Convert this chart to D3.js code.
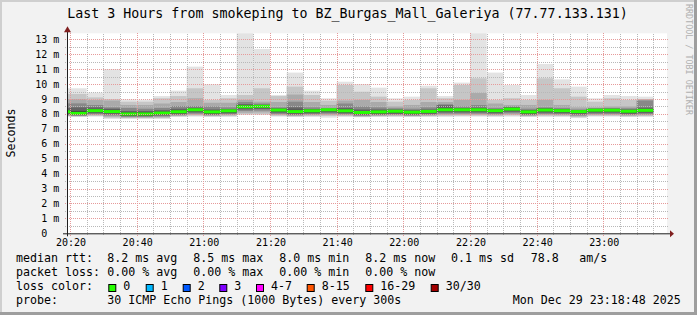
<!DOCTYPE html>
<html><head><meta charset="utf-8">
<script src="https://cdn.jsdelivr.net/npm/d3@7"></script>
<style>
html,body{margin:0;padding:0;background:#f2f2f2;}
svg{display:block;}
svg text{font-family:"DejaVu Sans Mono",monospace;fill:#000;}
</style></head><body>
<svg id="c" width="697" height="315"></svg>
<script>
// ---- data (ms) ----
const barEnds = ["20:20","20:25","20:30","20:35","20:40","20:45","20:50","20:55","21:00","21:05","21:10","21:15",
 "21:20","21:25","21:30","21:35","21:40","21:45","21:50","21:55","22:00","22:05","22:10","22:15",
 "22:20","22:25","22:30","22:35","22:40","22:45","22:50","22:55","23:00","23:05","23:10","23:15"];
const medianMs = [8.15,8.04,8.22,8.16,8.00,8.00,8.06,8.15,8.28,8.14,8.21,8.48,8.51,8.26,8.16,8.21,8.28,8.21,8.10,8.14,8.18,8.12,8.17,8.28,8.28,8.28,8.22,8.32,8.14,8.26,8.22,8.16,8.25,8.25,8.18,8.24];
// sorted ping ranks read from the smoke (upper side)
const p30 = [9.72,9.72,9.43,11.0,8.98,8.95,9.2,9.56,11.17,9.99,9.27,14.0,12.35,9.27,10.77,9.56,9.05,10.16,10.0,9.76,9.05,9.16,9.89,9.2,10.1,14.0,10.77,9.94,9.27,11.35,10.32,9.83,9.05,9.27,9.2,9.16];
const p28 = [9.34,9.34,9.11,9.0,8.82,8.82,9.05,9.2,9.72,8.94,9.05,9.27,9.72,9.2,9.83,9.27,8.89,9.94,9.49,9.16,8.82,8.94,9.72,9.05,9.94,10.39,8.94,9.05,8.94,10.39,9.72,9.16,8.82,9.05,8.94,9.0];
const p26 = [9.0,9.0,8.93,8.9,8.6,8.6,8.7,8.8,9.05,8.75,8.75,8.94,8.82,8.8,9.3,8.8,8.6,8.9,8.94,8.8,8.5,8.6,8.8,8.8,8.94,9.4,8.7,8.6,8.6,8.94,8.6,8.44,8.44,8.5,8.5,8.97];
const p23 = [8.71,8.71,8.6,8.44,8.4,8.35,8.4,8.53,8.53,8.5,8.44,8.8,8.7,8.44,8.82,8.44,8.38,8.7,8.5,8.44,8.38,8.35,8.44,8.65,8.5,8.6,8.4,8.5,8.35,8.44,8.4,8.3,8.38,8.4,8.38,8.9];
const p20 = [8.4,8.44,8.44,8.35,8.2,8.2,8.25,8.35,8.42,8.3,8.31,8.66,8.62,8.38,8.44,8.33,8.35,8.4,8.3,8.3,8.3,8.25,8.3,8.58,8.4,8.42,8.33,8.45,8.25,8.38,8.33,8.25,8.35,8.35,8.3,8.42];
const p17 = [8.25,8.2,8.32,8.27,8.1,8.1,8.15,8.25,8.36,8.22,8.28,8.58,8.58,8.33,8.28,8.28,8.33,8.3,8.2,8.22,8.25,8.2,8.24,8.38,8.36,8.36,8.3,8.4,8.22,8.34,8.3,8.22,8.32,8.32,8.26,8.33];
// lower side
const p14 = [8.05,7.95,8.12,8.06,7.9,7.9,7.96,8.05,8.18,8.04,8.11,8.38,8.41,8.16,8.06,8.11,8.18,8.11,8.0,8.04,8.08,8.02,8.07,8.18,8.18,8.18,8.12,8.22,8.04,8.16,8.12,8.06,8.15,8.15,8.08,8.14];
const p11 = [7.98,7.92,8.05,7.98,7.86,7.86,7.9,7.98,8.1,7.97,8.04,8.3,8.33,8.08,7.98,8.04,8.1,8.04,7.94,7.97,8.0,7.95,8.0,8.1,8.1,8.1,8.05,8.14,7.97,8.08,8.05,7.98,8.08,8.08,8.0,8.06];
const p8  = [7.92,7.88,7.98,7.9,7.8,7.8,7.84,7.92,8.02,7.92,7.98,8.2,8.22,8.0,7.92,7.98,8.02,7.98,7.88,7.92,7.95,7.9,7.94,8.02,8.02,8.02,7.98,8.05,7.92,8.0,7.98,7.9,8.0,8.0,7.94,7.98];
const p5  = [7.88,7.85,7.92,7.82,7.76,7.76,7.78,7.88,7.95,7.88,7.92,8.08,8.1,7.93,7.87,7.92,7.94,7.92,7.84,7.88,7.9,7.86,7.89,7.94,7.95,7.95,7.92,7.97,7.87,7.93,7.92,7.84,7.93,7.93,7.88,7.92];
const p3  = [7.85,7.83,7.87,7.74,7.72,7.72,7.72,7.84,7.88,7.84,7.86,7.98,7.98,7.87,7.83,7.86,7.86,7.86,7.81,7.84,7.85,7.83,7.85,7.87,7.88,7.88,7.86,7.9,7.83,7.87,7.86,7.78,7.87,7.87,7.83,7.86];
const p1  = [7.82,7.82,7.82,7.66,7.66,7.66,7.66,7.8,7.82,7.8,7.8,7.93,7.93,7.82,7.8,7.8,7.75,7.8,7.78,7.8,7.8,7.8,7.8,7.8,7.82,7.82,7.8,7.82,7.8,7.8,7.8,7.72,7.82,7.82,7.8,7.8];
const yTicks = [0,1,2,3,4,5,6,7,8,9,10,11,12,13];
const xTickLabels = ["20:20","20:40","21:00","21:20","21:40","22:00","22:20","22:40","23:00"];
const titleText = "Last 3 Hours from smokeping to BZ_Burgas_Mall_Galeriya (77.77.133.131)";
const rttItems = ["8.2 ms avg","8.5 ms max","8.0 ms min","8.2 ms now","0.1 ms sd","78.8","am/s"];
const lossItems = ["0.00 % avg","0.00 % max","0.00 % min","0.00 % now"];
const lossLabels = ["0","1","2","3","4-7","8-15","16-29","30/30"];
const lossColors = ["#26ff00","#00b8ff","#0059ff","#7e00ff","#ff00ff","#ff5500","#ff0000","#a10000"];
const probeText = "30 ICMP Echo Pings (1000 Bytes) every 300s";
const dateText = "Mon Dec 29 23:18:48 2025";

// ---- layout ----
const svg = d3.select("#c");
const pt = d3.timeParse("%H:%M:%S");
const pm = d3.timeParse("%H:%M");
const X0 = 67, X1 = 667, Y0 = 233.3, Y1 = 33.3;
const x = d3.scaleTime().domain([pt("20:19:06"), pt("23:19:06")]).range([X0, X1]);
const y = d3.scaleLinear().domain([0, 13.405]).range([Y0, Y1]);

svg.append("rect").attr("x",0).attr("y",0).attr("width",697).attr("height",315).attr("fill","#f2f2f2");
svg.append("rect").attr("x",0).attr("y",0).attr("width",697).attr("height",2).attr("fill","#cfcfcf");
svg.append("rect").attr("x",0).attr("y",0).attr("width",2).attr("height",315).attr("fill","#cfcfcf");
svg.append("rect").attr("x",0).attr("y",312).attr("width",697).attr("height",3).attr("fill","#9e9e9e");
svg.append("rect").attr("x",694).attr("y",0).attr("width",3).attr("height",315).attr("fill","#9e9e9e");

svg.append("rect").attr("x",X0).attr("y",Y1).attr("width",X1-X0).attr("height",Y0-Y1).attr("fill","#fff");

svg.append("defs").append("clipPath").attr("id","pc").append("rect")
  .attr("x",X0).attr("y",Y1).attr("width",X1-X0).attr("height",Y0-Y1);

// smoke: band k spans rank lo..hi, drawn outer to inner
const bands = [
  {lo:p1,  hi:p30, c:"#e3e3e3"},
  {lo:p3,  hi:p28, c:"#c6c6c6"},
  {lo:p5,  hi:p26, c:"#aaaaaa"},
  {lo:p8,  hi:p23, c:"#888888"},
  {lo:p11, hi:p20, c:"#646464"},
  {lo:p14, hi:p17, c:"#3e3e3e"}
];
const bx = barEnds.map(e => {
  const t = pm(e);
  return [Math.max(X0, x(d3.timeMinute.offset(t,-5))), x(t)];
});
const sg = svg.append("g").attr("clip-path","url(#pc)");
bands.forEach(b => {
  sg.selectAll(null).data(barEnds).enter().append("rect")
    .attr("x",(d,i)=>bx[i][0]).attr("width",(d,i)=>bx[i][1]-bx[i][0])
    .attr("y",(d,i)=>y(b.hi[i])).attr("height",(d,i)=>y(b.lo[i])-y(b.hi[i]))
    .attr("fill",b.c);
});

// grid
const grid = svg.append("g").attr("shape-rendering","crispEdges");
const minorCol = "#b8b8b8", majorCol = "#e69a9a";
const minorY = d3.range(0.5, 13.5, 1);
grid.selectAll(null).data(minorY).enter().append("line")
  .attr("x1",X0-2).attr("x2",X1+1).attr("y1",d=>Math.round(y(d))+0.5).attr("y2",d=>Math.round(y(d))+0.5)
  .attr("stroke",minorCol).attr("stroke-dasharray","1,1");
const minorX = d3.timeMinute.every(5).range(pt("20:20:00"), pt("23:19:06"));
grid.selectAll(null).data(minorX.filter(d=>d.getMinutes()%20!==0)).enter().append("line")
  .attr("y1",Y0+2).attr("y2",Y1).attr("x1",d=>Math.round(x(d))+0.5).attr("x2",d=>Math.round(x(d))+0.5)
  .attr("stroke",minorCol).attr("stroke-dasharray","1,1");
grid.selectAll(null).data(yTicks.filter(v=>v>0)).enter().append("line")
  .attr("x1",X0-2).attr("x2",X1+1).attr("y1",d=>Math.round(y(d))+0.5).attr("y2",d=>Math.round(y(d))+0.5)
  .attr("stroke",majorCol).attr("stroke-dasharray","1,1");
const majorX = xTickLabels.map(s=>pm(s));
grid.selectAll(null).data(majorX).enter().append("line")
  .attr("y1",Y0+3).attr("y2",Y1).attr("x1",d=>Math.round(x(d))+0.5).attr("x2",d=>Math.round(x(d))+0.5)
  .attr("stroke",majorCol).attr("stroke-dasharray","1,1");

// median lines
sg.selectAll(null).data(medianMs).enter().append("rect")
  .attr("x",(d,i)=>bx[i][0]).attr("width",(d,i)=>bx[i][1]-bx[i][0])
  .attr("y",d=>y(d)-1.5).attr("height",3).attr("fill",lossColors[0]);

// axes
const ax = svg.append("g");
ax.append("line").attr("x1",X0-4).attr("x2",X1+4).attr("y1",Y0+0.5).attr("y2",Y0+0.5).attr("stroke","#1f1f1f");
ax.append("line").attr("x1",X0+0.5).attr("x2",X0+0.5).attr("y1",Y0+3).attr("y2",Y1-4).attr("stroke","#1f1f1f");
ax.append("path").attr("d",`M${X1+3},${Y0-3}L${X1+7},${Y0+0.5}L${X1+3},${Y0+4}Z`).attr("fill","#801f1f");
ax.append("path").attr("d",`M${X0-3},${Y1-1}L${X0+0.5},${Y1-7}L${X0+4},${Y1-1}Z`).attr("fill","#801f1f");

// y labels
const yl = svg.append("g").attr("font-size","10px");
yl.selectAll(null).data(yTicks).enter().append("text")
  .attr("x",47.3).attr("y",d=>y(d)+3.5).attr("text-anchor","end").text(d=>d);
yl.selectAll(null).data(yTicks.filter(v=>v>0)).enter().append("text")
  .attr("x",53.3).attr("y",d=>y(d)+3.5).text("m");
// x labels
svg.append("g").attr("font-size","10px").selectAll(null).data(xTickLabels).enter().append("text")
  .attr("x",d=>x(pm(d))+1).attr("y",246).attr("text-anchor","middle").text(d=>d);

svg.append("text").attr("x",347.5).attr("y",18).attr("text-anchor","middle").attr("font-size","13.3px").text(titleText);
svg.append("text").attr("transform","translate(14.5,133) rotate(-90)").attr("text-anchor","middle")
  .attr("font-size","11.6px").text("Seconds");
svg.append("text").attr("transform","translate(685.5,4) rotate(90)").attr("font-size","8.4px")
  .style("fill","#b0b0b0").text("RRDTOOL / TOBI OETIKER");

// legend
const lg = svg.append("g").attr("font-size","11.63px");
const rows = [262,276,290,304];
lg.append("text").attr("x",16).attr("y",rows[0]).text("median rtt:");
lg.append("text").attr("x",16).attr("y",rows[1]).text("packet loss:");
lg.append("text").attr("x",16).attr("y",rows[2]).text("loss color:");
lg.append("text").attr("x",16).attr("y",rows[3]).text("probe:");
const rttX = [107.3,193.3,279.3,365.3,451,530.7,579.3];
lg.selectAll(null).data(rttItems).enter().append("text").attr("x",(d,i)=>rttX[i]).attr("y",rows[0]).text(d=>d);
lg.selectAll(null).data(lossItems).enter().append("text").attr("x",(d,i)=>rttX[i]).attr("y",rows[1]).text(d=>d);
const sqX = [108.3,145.7,182.7,219.3,256,306.7,365.3,430.7];
lossLabels.forEach((l,i)=>{
  lg.append("rect").attr("x",sqX[i]+0.5).attr("y",284.5).attr("width",7).attr("height",7)
    .attr("fill",lossColors[i]).attr("stroke","#000").attr("stroke-width",1);
  lg.append("text").attr("x",sqX[i]+15).attr("y",rows[2]).text(l);
});
lg.append("text").attr("x",107.3).attr("y",rows[3]).text(probeText);
lg.append("text").attr("x",512.7).attr("y",rows[3]).text(dateText);
</script>
</body></html>
